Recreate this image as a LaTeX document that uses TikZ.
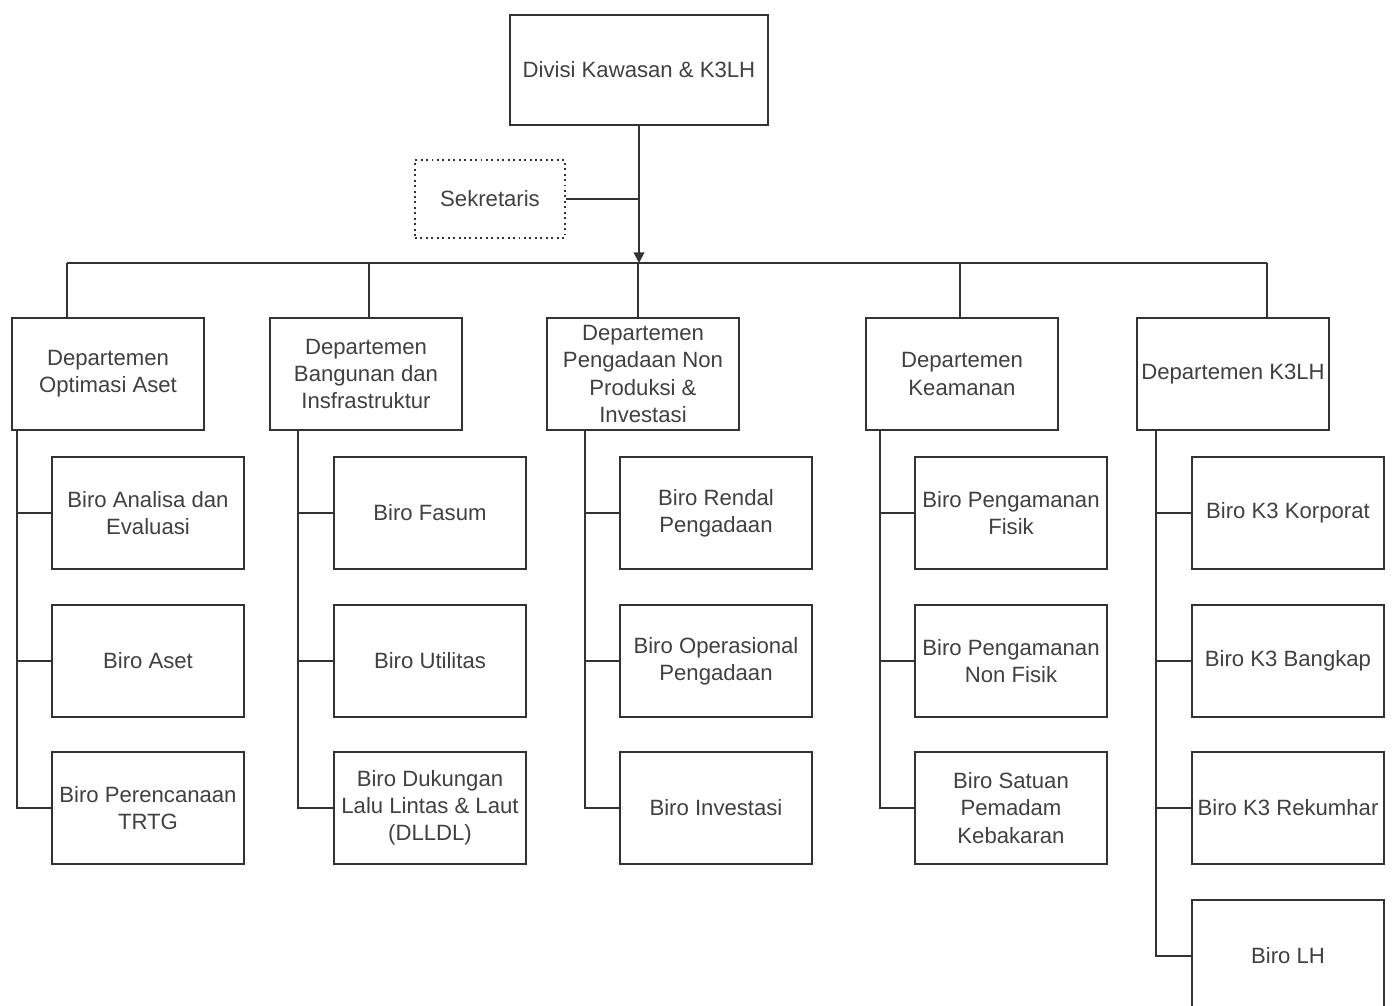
\documentclass[tikz,border=0pt]{standalone}
\usepackage{fontspec}
\setmainfont{Liberation Sans}
\usetikzlibrary{arrows.meta}

\begin{document}
\begin{tikzpicture}[
    x=0.02cm, y=-0.02cm,
    font=\fontsize{12.6}{15.5}\selectfont,
    line width=1pt, color=black!80,
    unit/.style={draw, line width=1.1pt, text=black!75, align=center,
        inner sep=1pt, minimum width=3.84cm, minimum height=2.24cm},
    >={Triangle[length=6pt,width=6pt]} % Pfeilspitze
    ]
    \useasboundingbox (0,0) rectangle (1394,1005);

    % Pimpinan
    \node[unit, minimum width=5.16cm, minimum height=2.2cm] (divisi) at (639,70)
        {Divisi Kawasan \& K3LH};
    \node[unit, dotted, line width=1.6pt, minimum width=3cm, minimum height=1.56cm]
        (sek) at (490,199) {Sekretaris};

    % Departemen
    \node[unit] (dOpt)  at (108,374) {Departemen\\Optimasi Aset};
    \node[unit] (dBang) at (366,374) {Departemen\\Bangunan dan\\Insfrastruktur};
    \node[unit] (dPeng) at (643,374) {Departemen\\Pengadaan Non\\Produksi \&\\Investasi};
    \node[unit] (dKeam) at (962,374) {Departemen\\Keamanan};
    \node[unit] (dK3)   at (1233,374) {Departemen K3LH};

    % Biro
    \node[unit] (bAna)  at (148,513) {Biro Analisa dan\\Evaluasi};
    \node[unit] (bAset) at (148,661) {Biro Aset};
    \node[unit] (bPer)  at (148,808) {Biro Perencanaan\\TRTG};

    \node[unit] (bFas)  at (430,513) {Biro Fasum};
    \node[unit] (bUtil) at (430,661) {Biro Utilitas};
    \node[unit] (bDll)  at (430,808) {Biro Dukungan\\Lalu Lintas \& Laut\\(DLLDL)};

    \node[unit] (bRen)  at (716,513) {Biro Rendal\\Pengadaan};
    \node[unit] (bOps)  at (716,661) {Biro Operasional\\Pengadaan};
    \node[unit] (bInv)  at (716,808) {Biro Investasi};

    \node[unit] (bFis)  at (1011,513) {Biro Pengamanan\\Fisik};
    \node[unit] (bNon)  at (1011,661) {Biro Pengamanan\\Non Fisik};
    \node[unit] (bDam)  at (1011,808) {Biro Satuan\\Pemadam\\Kebakaran};

    \node[unit] (bKor)  at (1288,513) {Biro K3 Korporat};
    \node[unit] (bBang) at (1288,661) {Biro K3 Bangkap};
    \node[unit] (bRek)  at (1288,808) {Biro K3 Rekumhar};
    \node[unit] (bLH)   at (1288,956) {Biro LH};

    % Sammelschiene
    \coordinate (j1) at (67,263);
    \coordinate (j2) at (369,263);
    \coordinate (j3) at (638,263);
    \coordinate (j4) at (960,263);
    \coordinate (j5) at (1267,263);

    \draw[->] (divisi.south) -- (divisi.south |- j3);
    \draw (sek.east) -- (sek.east -| divisi.south);
    \draw (j1) -- (j5);
    \draw (j1) -- (j1 |- dOpt.north)
          (j2) -- (j2 |- dBang.north)
          (j3) -- (j3 |- dPeng.north)
          (j4) -- (j4 |- dKeam.north)
          (j5) -- (j5 |- dK3.north);

    % Leitungen zu den Biros
    \coordinate (s1) at (17,430);
    \coordinate (s2) at (298,430);
    \coordinate (s3) at (585,430);
    \coordinate (s4) at (880,430);
    \coordinate (s5) at (1156,430);

    \draw (s1) |- (bPer.west)  (s1 |- bAna.west) -- (bAna.west)
          (s1 |- bAset.west) -- (bAset.west);
    \draw (s2) |- (bDll.west)  (s2 |- bFas.west) -- (bFas.west)
          (s2 |- bUtil.west) -- (bUtil.west);
    \draw (s3) |- (bInv.west)  (s3 |- bRen.west) -- (bRen.west)
          (s3 |- bOps.west) -- (bOps.west);
    \draw (s4) |- (bDam.west)  (s4 |- bFis.west) -- (bFis.west)
          (s4 |- bNon.west) -- (bNon.west);
    \draw (s5) |- (bLH.west)   (s5 |- bKor.west) -- (bKor.west)
          (s5 |- bBang.west) -- (bBang.west)
          (s5 |- bRek.west) -- (bRek.west);
\end{tikzpicture}
\end{document}
